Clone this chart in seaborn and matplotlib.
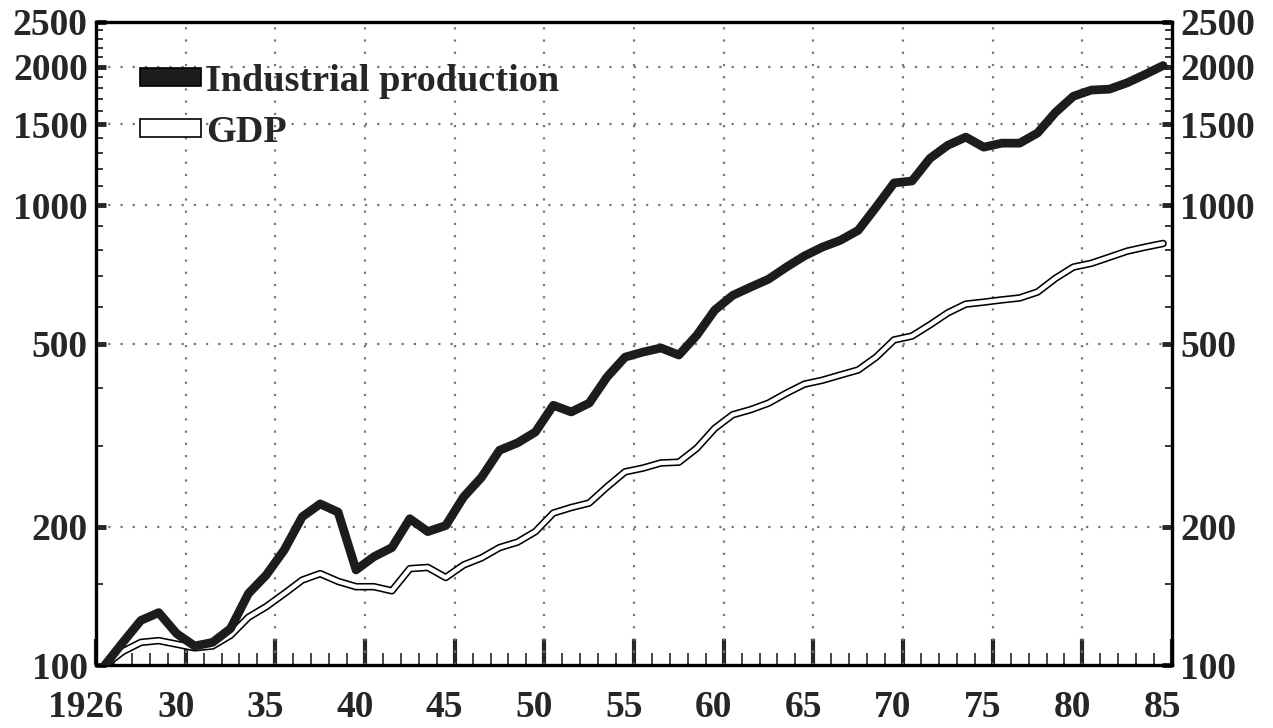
import numpy as np
import pandas as pd
import matplotlib
matplotlib.use("Agg")
import matplotlib.pyplot as plt
import matplotlib.transforms as mtransforms
from matplotlib.patches import Patch
from matplotlib.ticker import FixedLocator, NullFormatter
import seaborn as sns

# index, 1926 = 100
years = list(range(1926, 1986))
industrial = [100, 112, 125, 130, 117, 110, 112, 120, 143, 157,
              178, 210, 224, 215, 161, 172, 180, 208, 195, 201,
              232, 256, 293, 304, 321, 367, 355, 371, 423, 467,
              479, 489, 472, 521, 591, 636, 663, 690, 733, 775,
              810, 838, 881, 990, 1117, 1128, 1263, 1349, 1405, 1336,
              1363, 1363, 1434, 1590, 1724, 1778, 1786, 1844, 1923, 2010]
gdp = [100, 107, 112, 113, 111, 109, 110, 116, 127, 134,
       143, 153, 158, 152, 148, 148, 145, 162, 163, 155,
       165, 171, 180, 185, 195, 214, 220, 225, 244, 263,
       268, 275, 276, 296, 327, 350, 359, 371, 390, 408,
       416, 427, 438, 467, 509, 519, 549, 583, 609, 615,
       622, 628, 647, 693, 733, 747, 770, 794, 810, 825]

y_major = [100, 200, 500, 1000, 1500, 2000, 2500]
y_minor = [150, 300, 400, 600, 700, 800, 900, 1100, 1200, 1300, 1400,
           1600, 1700, 1800, 1900, 2100, 2200, 2300, 2400]
x_labels = ["1926", "30", "35", "40", "45", "50", "55", "60", "65", "70", "75", "80", "85"]

df = pd.DataFrame({"year": years, "industrial": industrial, "gdp": gdp})
# each year is drawn in the middle of its slot (slot 1926 spans 1925..1926 on the axis)
df["pos"] = df["year"] - 0.5

sns.set_style("white")
plt.rcParams["font.family"] = ["Liberation Serif", "DejaVu Serif"]
plt.rcParams["font.weight"] = "bold"

fig = plt.figure(figsize=(12.73, 7.28), dpi=100)
ax = fig.add_axes([0.0754, 0.0865, 0.8453, 0.8833])

# industrial production: heavy dark line
sns.lineplot(data=df, x="pos", y="industrial", ax=ax, color="#1c1c1c", linewidth=6.3, zorder=4)
# GDP: hollow double line
sns.lineplot(data=df, x="pos", y="gdp", ax=ax, color="black", linewidth=5.4, zorder=3)
sns.lineplot(data=df, x="pos", y="gdp", ax=ax, color="white", linewidth=3.1, zorder=3.5)

ax.set_yscale("log")
ax.set_xlim(1925, 1985)
ax.set_ylim(100, 2500)

# y axis, both sides
ax.yaxis.set_major_locator(FixedLocator(y_major))
ax.yaxis.set_minor_locator(FixedLocator(y_minor))
ax.yaxis.set_minor_formatter(NullFormatter())
ax.set_yticklabels([str(v) for v in y_major])
ax.tick_params(axis="y", which="major", direction="in", length=7, width=3.5,
               left=True, right=True, labelleft=True, labelright=True,
               labelsize=27, pad=6)
ax.tick_params(axis="y", which="minor", direction="in", length=5, width=1.3,
               left=True, right=True)

# x axis
ax.set_xticks(list(range(1925, 1986, 5)))
ax.set_xticklabels(x_labels)
ax.set_xticks(list(range(1926, 1985)), minor=True)
ax.tick_params(axis="x", which="major", direction="in", length=19, width=3,
               bottom=True, top=False, labelsize=27, pad=18)
ax.tick_params(axis="x", which="minor", direction="in", length=8.5, width=1.2,
               bottom=True, top=False)
shift = mtransforms.ScaledTranslation(-10 / 100, 0, fig.dpi_scale_trans)
for lab in ax.get_xticklabels():
    lab.set_transform(lab.get_transform() + shift)

ax.set_xlabel("")
ax.set_ylabel("")

# dotted grid
for x in range(1930, 1985, 5):
    ax.axvline(x, color="#777777", linestyle=(0, (1, 4.5)), linewidth=1.6, zorder=1)
for y in [200, 500, 1000, 1500, 2000]:
    ax.axhline(y, color="#777777", linestyle=(0, (1, 4.5)), linewidth=1.6, zorder=1)

for side in ["left", "right", "top", "bottom"]:
    ax.spines[side].set_visible(True)
    ax.spines[side].set_color("black")
    ax.spines[side].set_linewidth(2.4)

handles = [Patch(facecolor="#1c1c1c", edgecolor="black", linewidth=1.2),
           Patch(facecolor="white", edgecolor="black", linewidth=1.2)]
ax.legend(handles, ["Industrial production", "GDP"], loc="upper left",
          bbox_to_anchor=(0.041, 0.935), frameon=False, borderpad=0, borderaxespad=0,
          handlelength=1.6, handleheight=0.37, handletextpad=0.12, labelspacing=0.42,
          prop={"family": "Liberation Serif", "weight": "bold", "size": 27.5})

fig.savefig("out.png", dpi=100)
